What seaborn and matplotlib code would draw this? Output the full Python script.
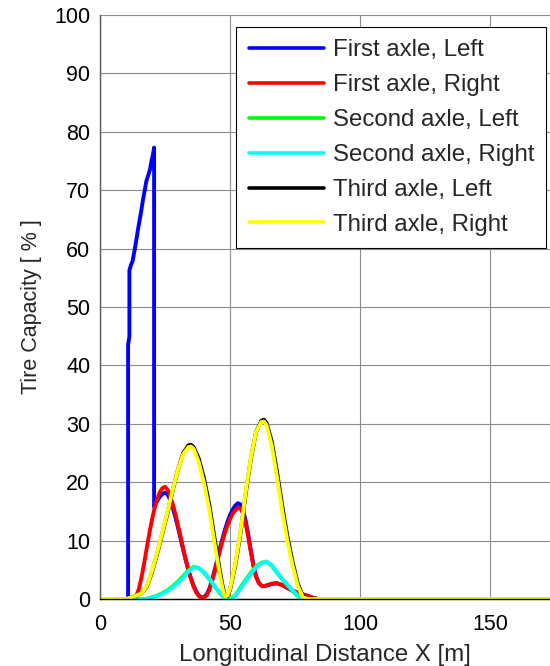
import matplotlib
matplotlib.use("Agg")
import matplotlib.pyplot as plt
import seaborn as sns

# Longitudinal distance samples (m) and tire capacity (%) for each wheel
first_left_x = [0, 10.8, 10.8, 11.3, 11.3, 12.0, 12.5, 13.2, 13.8, 14.5, 15.2, 15.8, 16.5,
                17.2, 17.8, 18.5, 19.2, 19.8, 20.4, 20.8, 20.8, 21, 22, 23, 24, 25, 26, 27,
                28, 29, 30, 31, 32, 33, 34, 35, 36, 37, 38, 39, 40, 41, 42, 43, 44, 45, 46,
                47, 48, 49, 50, 51, 52, 53, 54, 55, 56, 57, 58, 59, 60, 61, 62, 63, 64, 66,
                68, 70, 72, 74, 76, 78, 80, 82, 84, 175]
first_left_y = [0, 0, 43.5, 45.0, 56.3, 57.3, 57.8, 59.5, 61.0, 63.0, 64.8, 66.3, 68.3,
                70.0, 71.5, 72.5, 73.5, 75.0, 76.2, 77.3, 15.8, 16.0, 16.8, 17.5, 18.0, 18.2,
                17.9, 17.0, 15.6, 14.0, 12.2, 10.3, 8.4, 6.6, 4.9, 3.5, 2.3, 1.3, 0.6, 0.3,
                0.3, 0.8, 1.7, 3.1, 4.8, 6.6, 8.5, 10.2, 11.8, 13.2, 14.4, 15.3, 16.0, 16.4,
                16.2, 15.2, 13.4, 11.0, 8.3, 5.8, 3.9, 2.8, 2.3, 2.2, 2.3, 2.6, 2.7, 2.4,
                1.9, 1.4, 1.1, 0.8, 0.5, 0.2, 0, 0]

first_right_x = [0, 12, 13, 14, 15, 16, 17, 18, 19, 20, 21, 22, 23, 24, 25, 26, 27, 28, 29,
                 30, 31, 32, 33, 34, 35, 36, 37, 38, 39, 40, 41, 42, 43, 44, 45, 46, 47, 48,
                 49, 50, 51, 52, 53, 54, 55, 56, 57, 58, 59, 60, 61, 62, 63, 64, 66, 68, 70,
                 72, 74, 76, 78, 80, 82, 84, 175]
first_right_y = [0, 0, 0.2, 0.6, 1.8, 3.8, 6.2, 8.8, 11.3, 13.6, 15.6, 17.1, 18.3, 19.0,
                 19.2, 18.7, 17.6, 16.2, 14.5, 12.6, 10.6, 8.6, 6.7, 4.9, 3.4, 2.1, 1.1, 0.5,
                 0.2, 0.2, 0.6, 1.5, 2.9, 4.5, 6.3, 8.1, 9.8, 11.3, 12.6, 13.7, 14.6, 15.2,
                 15.6, 15.5, 14.6, 12.9, 10.6, 8.0, 5.6, 3.8, 2.8, 2.3, 2.2, 2.3, 2.6, 2.7,
                 2.4, 1.9, 1.4, 1.1, 0.8, 0.5, 0.2, 0, 0]

second_x = [0, 16, 18, 20, 22, 24, 26, 28, 30, 32, 34, 36, 38, 40, 42, 44, 46, 48, 50, 52,
            54, 56, 58, 60, 62, 64, 66, 68, 70, 72, 74, 76, 78, 79, 175]
second_left_y = [0, 0, 0.05, 0.3, 0.6, 1.0, 1.5, 2.2, 3.0, 3.95, 4.9, 5.5, 5.3, 4.5, 3.4,
                 2.2, 1.0, 0.1, 0, 0.6, 2.0, 3.3, 4.5, 5.6, 6.2, 6.4, 5.7, 4.5, 3.4, 2.4,
                 1.4, 0.5, 0.05, 0, 0]
second_right_y = [0, 0, 0, 0.2, 0.5, 0.9, 1.35, 2.0, 2.8, 3.7, 4.7, 5.4, 5.3, 4.6, 3.5,
                  2.3, 1.1, 0.1, 0, 0.5, 1.8, 3.1, 4.3, 5.4, 6.1, 6.4, 5.8, 4.6, 3.5, 2.5,
                  1.5, 0.6, 0.05, 0, 0]

third_x = [0, 10, 12, 14, 16, 18, 20, 22, 24, 26, 28, 30, 32, 34, 35, 36, 38, 40, 42, 44,
           46, 47, 48, 49, 50, 52, 54, 56, 58, 60, 62, 63, 64, 66, 68, 70, 72, 74, 76, 78,
           80, 175]
third_left_y = [0, 0, 0.3, 0.6, 1.0, 2.1, 4.6, 7.8, 11.3, 14.8, 18.7, 22.2, 25.0, 26.3,
                26.4, 26.0, 24.0, 20.6, 16.2, 10.5, 5.0, 2.5, 0.6, 0.5, 1.6, 5.7, 11.2,
                18.0, 24.0, 28.6, 30.5, 30.7, 30.2, 27.0, 21.9, 16.1, 10.8, 6.4, 2.7, 0.5,
                0, 0]
third_right_y = [0, 0, 0.3, 0.6, 1.0, 2.2, 4.8, 8.0, 11.5, 15.0, 18.8, 22.2, 24.8, 26.0,
                 26.1, 25.7, 23.4, 19.8, 15.3, 9.6, 4.3, 2.0, 0.4, 0.6, 1.8, 6.0, 11.5,
                 18.3, 24.2, 28.6, 30.3, 30.4, 29.8, 26.3, 21.0, 15.2, 10.0, 5.8, 2.3, 0.3,
                 0, 0]

series_labels = ["First axle, Left", "First axle, Right", "Second axle, Left",
                 "Second axle, Right", "Third axle, Left", "Third axle, Right"]
series_colors = ["#0000ff", "#ff0000", "#00ff00", "#00ffff", "#000000", "#ffff00"]
x_ticks = [0, 50, 100, 150]
y_ticks = [0, 10, 20, 30, 40, 50, 60, 70, 80, 90, 100]

sns.set_theme(style="white")
plt.rcParams["font.family"] = ["Liberation Sans", "DejaVu Sans"]

fig = plt.figure(figsize=(5.5, 6.66), dpi=100)
ax = fig.add_axes([100 / 550, 67 / 666, 450 / 550, 584 / 666])

curves = [(first_left_x, first_left_y), (first_right_x, first_right_y),
          (second_x, second_left_y), (second_x, second_right_y),
          (third_x, third_left_y), (third_x, third_right_y)]
for (xs, ys), label, color in zip(curves, series_labels, series_colors):
    sns.lineplot(x=xs, y=ys, ax=ax, color=color, lw=2.8, label=label,
                 estimator=None, sort=False)

ax.set_xlim(0, 173)
ax.set_ylim(0, 100)
ax.set_xticks(x_ticks)
ax.set_yticks(y_ticks)
ax.grid(True, color="#8c8c8c", lw=0.8)
ax.set_axisbelow(True)
for side in ("top", "right"):
    ax.spines[side].set_visible(False)
ax.spines["left"].set_color("#555555")
ax.spines["bottom"].set_color("#000000")
ax.spines["left"].set_linewidth(1.0)
ax.spines["bottom"].set_linewidth(1.0)
ax.tick_params(direction="in", length=5, width=0.8, color="#333333",
               labelsize=15.5, labelcolor="black")
ax.tick_params(axis="x", pad=11)
ax.tick_params(axis="y", pad=7)

ax.set_xlabel("Longitudinal Distance X [m]", fontsize=17.3, labelpad=6)
ax.set_ylabel("Tire Capacity [ % ]", fontsize=15.5, labelpad=9)

leg = ax.legend(loc="upper right", bbox_to_anchor=(446 / 450, 572 / 584),
                borderaxespad=0, fontsize=17.3, handlelength=3.15,
                handletextpad=0.35, borderpad=0.5, labelspacing=0.54,
                fancybox=False, framealpha=1, edgecolor="black")
leg.get_frame().set_linewidth(0.8)
for line in leg.get_lines():
    line.set_linewidth(2.6)

fig.savefig("out.png", dpi=100)
